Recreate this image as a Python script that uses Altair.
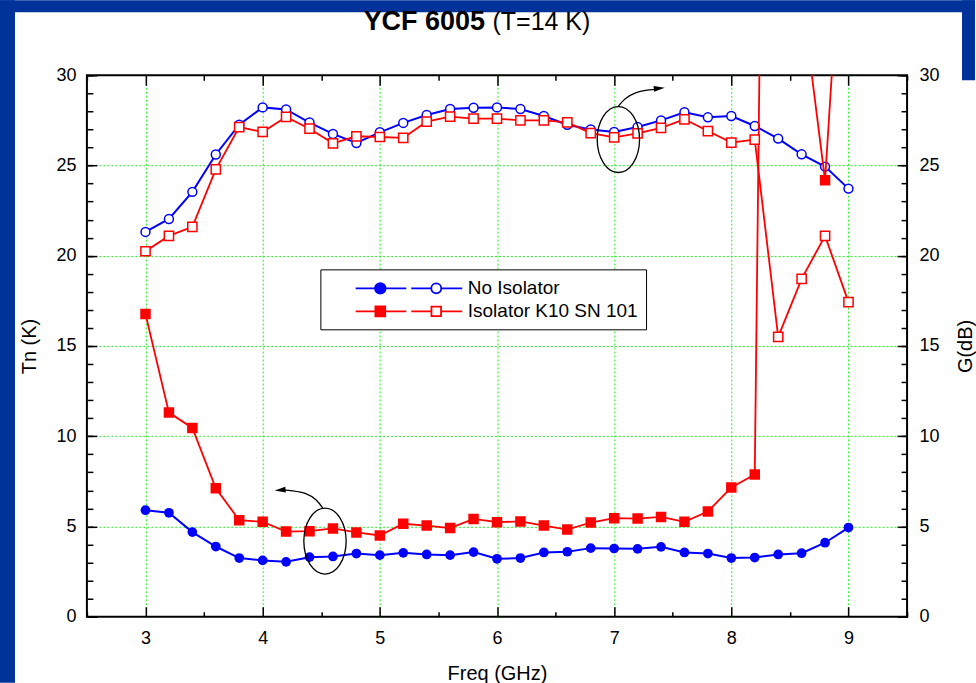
import altair as alt
import pandas as pd

# ---------------- data ----------------
freq = [3.0, 3.2, 3.4, 3.6, 3.8, 4.0, 4.2, 4.4, 4.6, 4.8, 5.0, 5.2, 5.4, 5.6, 5.8,
        6.0, 6.2, 6.4, 6.6, 6.8, 7.0, 7.2, 7.4, 7.6, 7.8, 8.0, 8.2, 8.4, 8.6, 8.8, 9.0]
tn_no_iso = [5.90, 5.76, 4.69, 3.89, 3.25, 3.12, 3.04, 3.30, 3.34, 3.50, 3.41, 3.54, 3.45, 3.41, 3.58,
             3.21, 3.25, 3.56, 3.60, 3.80, 3.78, 3.76, 3.87, 3.56, 3.50, 3.25, 3.28, 3.45, 3.52, 4.10, 4.94]
tn_iso = [16.77, 11.31, 10.46, 7.12, 5.35, 5.26, 4.72, 4.74, 4.89, 4.67, 4.50, 5.15, 5.05, 4.91, 5.42,
          5.24, 5.28, 5.05, 4.83, 5.22, 5.46, 5.44, 5.53, 5.26, 5.83, 7.16, 7.88, 120.0, 34.5, 24.18, 44.6]
g_no_iso = [21.32, 22.04, 23.54, 25.61, 27.26, 28.22, 28.11, 27.38, 26.75, 26.25, 26.84, 27.36, 27.80, 28.13, 28.20,
            28.22, 28.13, 27.74, 27.26, 27.00, 26.86, 27.13, 27.50, 27.95, 27.67, 27.74, 27.19, 26.49, 25.62, 24.94, 23.72]
g_iso = [20.25, 21.10, 21.60, 24.79, 27.13, 26.86, 27.69, 27.04, 26.23, 26.62, 26.58, 26.53, 27.43, 27.71, 27.60,
         27.60, 27.50, 27.50, 27.39, 26.80, 26.56, 26.78, 27.08, 27.56, 26.91, 26.27, 26.44, 15.51, 18.72, 21.10, 17.43]
series_names = ["No Isolator", "Isolator K10 SN 101"]

x_major = [3, 4, 5, 6, 7, 8, 9]
x_minor = [2.5, 3.5, 4.5, 5.5, 6.5, 7.5, 8.5, 9.5]
y_major = [0, 5, 10, 15, 20, 25, 30]
y_grid = [5, 10, 15, 20, 25]
y_minor = list(range(0, 31))

# annotation anchors (data coordinates)
ellipse_x = [7.036, 4.532]
ellipse_y = [26.44, 4.19]
arrow1_x = [7.035, 7.098, 7.183, 7.268, 7.353]
arrow1_y = [28.28, 28.71, 29.02, 29.16, 29.22]
arrow2_x = [4.513, 4.457, 4.372, 4.257, 4.172]
arrow2_y = [6.02, 6.47, 6.81, 6.97, 7.03]
head_x = [7.432, 4.102]
head_y = [29.31, 6.99]
head_angle = [354, 175]

title_bold = "YCF 6005"
title_rest = "(T=14 K)"

# ---------------- style ----------------
FONT = "Liberation Sans"
W, H = 821, 542
BLUE, RED = "#0000ff", "#ff0000"
FRAME = "#003399"

xs = alt.Scale(domain=[2.5, 9.5], nice=False, zero=False)
ys = alt.Scale(domain=[0, 30], nice=False, zero=False)


def tick_axis(orient, values, size):
    return alt.Axis(orient=orient, values=values, ticks=True, tickSize=size, offset=-size,
                    tickColor="black", tickWidth=1.5, labels=False, grid=False,
                    domain=False, title=None)


def label_axis(orient, values, title, pad, title_pad, **kw):
    return alt.Axis(orient=orient, values=values, ticks=False, labels=True, format="d",
                    labelFont=FONT, labelFontSize=18, labelColor="black", labelPadding=pad,
                    labelFlush=False, grid=False, domain=False, title=title, titleFont=FONT,
                    titleFontSize=20, titleFontWeight="normal", titleColor="black",
                    titlePadding=title_pad, **kw)


def grid_axis(orient, values):
    return alt.Axis(orient=orient, values=values, ticks=False, labels=False, domain=False,
                    title=None, grid=True, gridColor="#22ee22", gridDash=[2, 2], gridWidth=1)


def X(axis):
    return alt.X("freq:Q", scale=xs, axis=axis)


def Y(axis):
    return alt.Y("value:Q", scale=ys, axis=axis)


df_tn_no = pd.DataFrame({"freq": freq, "value": tn_no_iso})
df_tn_iso = pd.DataFrame({"freq": freq, "value": tn_iso})
df_g_no = pd.DataFrame({"freq": freq, "value": g_no_iso})
df_g_iso = pd.DataFrame({"freq": freq, "value": g_iso})

# dark-blue slide frame around the white page
one = pd.DataFrame({"a": [0]})
frame_left = alt.Chart(one).mark_rect(color=FRAME).encode(
    x=alt.value(-87), x2=alt.value(-72), y=alt.value(-75), y2=alt.value(608))
frame_top = alt.Chart(one).mark_rect(color=FRAME).encode(
    x=alt.value(-87), x2=alt.value(889), y=alt.value(-75), y2=alt.value(-63))
frame_right = alt.Chart(one).mark_rect(color=FRAME).encode(
    x=alt.value(876), x2=alt.value(889), y=alt.value(-75), y2=alt.value(5))

tn_no_line = alt.Chart(df_tn_no).mark_line(color=BLUE, strokeWidth=2).encode(
    x=X(label_axis("bottom", x_major, "Freq (GHz)", 13, 16)),
    y=Y(label_axis("left", y_major, "Tn (K)", 11, 16)))
tn_no_pts = alt.Chart(df_tn_no).mark_point(shape="circle", filled=True, size=95, color=BLUE,
                                           opacity=1).encode(
    x=X(tick_axis("bottom", x_major, 10)), y=Y(tick_axis("left", y_major, 10)))
g_no_line = alt.Chart(df_g_no).mark_line(color=BLUE, strokeWidth=2).encode(
    x=X(tick_axis("bottom", x_minor, 5)), y=Y(tick_axis("left", y_minor, 6)))
g_no_pts = alt.Chart(df_g_no).mark_point(shape="circle", filled=True, size=80, fill="white",
                                         stroke=BLUE, strokeWidth=1.5, opacity=1).encode(
    x=X(tick_axis("top", x_major, 10)),
    y=Y(label_axis("right", y_major, "G(dB)", 12, 16, titleAngle=270, titleBaseline="top")))
tn_iso_line = alt.Chart(df_tn_iso).mark_line(color=RED, strokeWidth=1.8, clip=True).encode(
    x=X(tick_axis("top", x_minor, 5)), y=Y(tick_axis("right", y_major, 10)))
tn_iso_pts = alt.Chart(df_tn_iso).mark_point(shape="square", filled=True, size=110, color=RED,
                                             opacity=1, clip=True).encode(
    x=X(grid_axis("bottom", x_major)), y=Y(tick_axis("right", y_minor, 6)))
g_iso_line = alt.Chart(df_g_iso).mark_line(color=RED, strokeWidth=1.8).encode(
    x=X(None), y=Y(grid_axis("left", y_grid)))
g_iso_pts = alt.Chart(df_g_iso).mark_point(shape="square", filled=True, size=85, fill="white",
                                           stroke=RED, strokeWidth=1.5, opacity=1).encode(
    x=X(None), y=Y(None))

# ellipses and curved arrows
ELLIPSE = "M 0.642 0 A 0.642 1 0 1 1 -0.642 0 A 0.642 1 0 1 1 0.642 0 Z"
HEAD = "M 0 0 L -1 -0.27 L -1 0.27 Z"
ell = alt.Chart(pd.DataFrame({"freq": ellipse_x, "value": ellipse_y})).mark_point(
    shape=ELLIPSE, size=4356, filled=False, stroke="black", strokeWidth=1.3, opacity=1).encode(
    x=X(None), y=Y(None))
arr_df = pd.DataFrame({
    "freq": arrow1_x + arrow2_x,
    "value": arrow1_y + arrow2_y,
    "arrow": ["a"] * len(arrow1_x) + ["b"] * len(arrow2_x),
    "i": list(range(len(arrow1_x))) + list(range(len(arrow2_x))),
})
arr = alt.Chart(arr_df).mark_line(color="black", strokeWidth=1.3, interpolate="natural").encode(
    x=X(None), y=Y(None), detail="arrow:N", order="i:Q")
heads = alt.Chart(pd.DataFrame({"freq": head_x, "value": head_y, "ang": head_angle})).mark_point(
    shape=HEAD, size=484, filled=True, color="black", opacity=1).encode(
    x=X(None), y=Y(None), angle=alt.Angle("ang:Q", scale=None))

# legend: symbol = line, filled marker, gap, line, open marker
U = 10.0  # pixels per path unit for symbolSize 400


def seg(x0, x1):
    return f"M {x0 / U:.3f} 0 L {x1 / U:.3f} 0 "


def circ(cx, r):
    a, b, rr = (cx + r) / U, (cx - r) / U, r / U
    return f"M {a:.3f} 0 A {rr:.3f} {rr:.3f} 0 1 1 {b:.3f} 0 A {rr:.3f} {rr:.3f} 0 1 1 {a:.3f} 0 Z "


def sq(cx, h):
    x0, x1, y0, y1 = (cx - h) / U, (cx + h) / U, -h / U, h / U
    return f"M {x0:.3f} {y0:.3f} L {x1:.3f} {y0:.3f} L {x1:.3f} {y1:.3f} L {x0:.3f} {y1:.3f} Z "


anchor = f"M {-80.6 / U:.3f} 0 "
sym_circle = (anchor + seg(-53.3, -2.6) + "".join(circ(-28.6, r) for r in [5.3, 3.9, 2.5, 1.1])
              + seg(2.4, 22.4) + circ(27.4, 5.0) + seg(32.4, 53.4)).strip()
sym_square = (anchor + seg(-53.3, -2.6) + "".join(sq(-28.6, h) for h in [4.9, 3.5, 2.1, 0.7])
              + seg(2.4, 22.6) + sq(27.4, 4.8) + seg(32.2, 53.4)).strip()

NB = "\u00a0" * 7
leg = alt.Legend(orient="none", legendX=233.7, legendY=194.3, title=None, direction="vertical",
                 symbolSize=400, symbolStrokeWidth=1.8, symbolOffset=69.6, labelOffset=48,
                 labelFont=FONT, labelFontSize=19, labelColor="black", labelLimit=500, padding=8,
                 strokeColor="black", fillColor="white", rowPadding=2, zindex=1,
                 labelExpr="datum.label + '" + NB + "'")
legend_layer = alt.Chart(pd.DataFrame({"series": series_names})).transform_filter("false").mark_point(
    filled=False, opacity=1).encode(
    color=alt.Color("series:N", scale=alt.Scale(domain=series_names, range=[BLUE, RED]), legend=leg),
    shape=alt.Shape("series:N", scale=alt.Scale(domain=series_names, range=[sym_circle, sym_square]),
                    legend=leg))

# title (bold part + regular part)
t1 = alt.Chart(pd.DataFrame({"t": [title_bold]})).mark_text(
    font=FONT, fontSize=27, fontWeight="bold", align="left", baseline="middle", color="black").encode(
    x=alt.value(277), y=alt.value(-53), text="t:N")
t2 = alt.Chart(pd.DataFrame({"t": [title_rest]})).mark_text(
    font=FONT, fontSize=25, align="left", baseline="middle", color="black").encode(
    x=alt.value(406), y=alt.value(-53), text="t:N")

chart = alt.layer(
    frame_left, frame_top, frame_right, tn_no_line, tn_no_pts, g_no_line, g_no_pts, tn_iso_line,
    tn_iso_pts, g_iso_line, g_iso_pts, ell, arr, heads, legend_layer, t1, t2
).resolve_axis(x="independent", y="independent").properties(
    width=W, height=H, background="white", padding=0
).configure_view(stroke="black", strokeWidth=2)

chart.save("out.html", embed_options={"renderer": "svg", "actions": False})
